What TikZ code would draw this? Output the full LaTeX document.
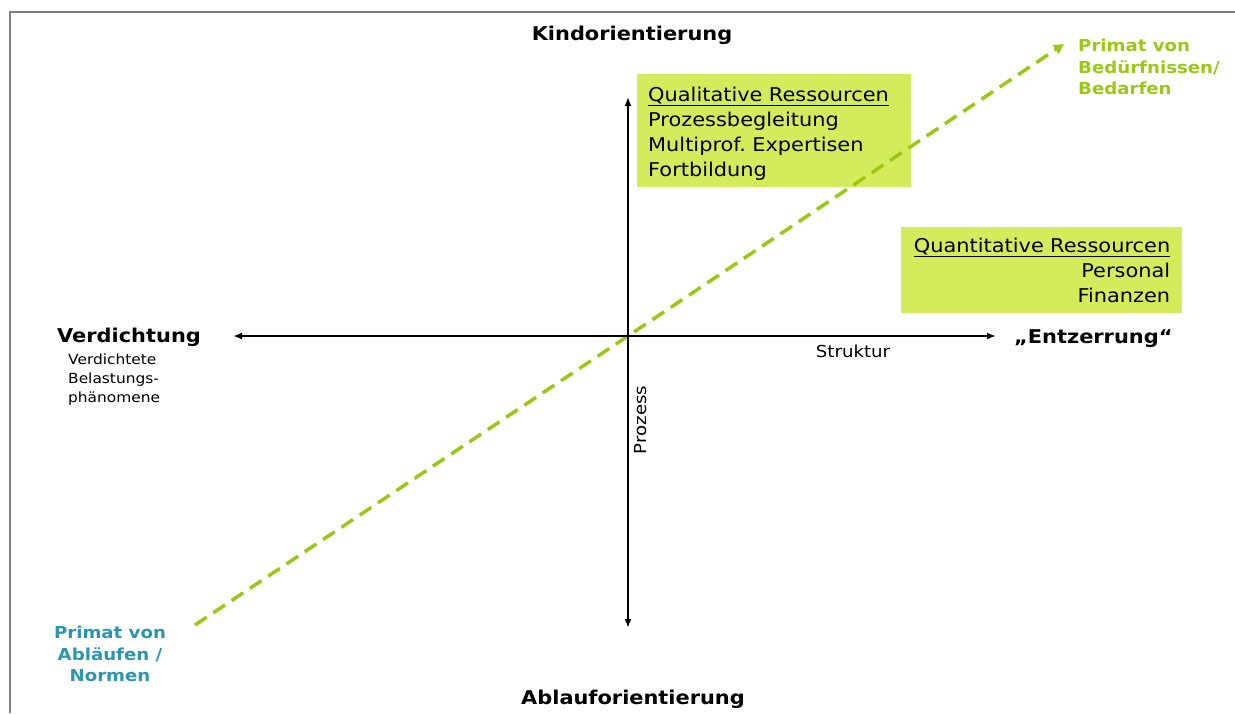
\documentclass[tikz,border=0pt]{standalone}
\usepackage{fontspec}
\setmainfont{DejaVu Sans}[FakeStretch=1.1]
\frenchspacing
\usetikzlibrary{arrows.meta}
\definecolor{boxgreen}{RGB}{212,236,92}
\definecolor{linegreen}{RGB}{154,200,20}
\definecolor{tealblue}{RGB}{42,150,176}
\tikzset{
  axis/.style={draw,line width=1.8pt,{Latex[length=9pt,width=7pt]}-{Latex[length=9pt,width=7pt]}},
  resbox/.style={fill=boxgreen,inner xsep=11pt,inner ysep=0pt,font=\fontsize{19}{25}\selectfont},
  pole/.style={font=\bfseries\fontsize{19}{23}\selectfont},
  primat/.style={font=\bfseries\fontsize{16.5}{21.5}\selectfont}
}
\begin{document}
\begin{tikzpicture}[x=1pt,y=-1pt]
\useasboundingbox (0,0) rectangle (1235,713);
\draw[gray,line width=2pt] (10,713) -- (10,12) -- (1235,12);

\coordinate (O) at (628,336);
\coordinate (W) at (233,336);
\coordinate (E) at (996,336);
\coordinate (N) at (628,97);
\coordinate (S) at (628,628);
\coordinate (low) at (195,625);
\coordinate (high) at (1064,44);

\node[resbox,anchor=north west,minimum width=274pt,minimum height=113pt,text width=252pt,align=left] (qual) at (637,74)
  {\rule{0pt}{20.5pt}\underline{Qualitative Ressourcen}\\Prozessbegleitung\\Multiprof. Expertisen\\Fortbildung};
\node[resbox,anchor=north west,minimum width=281pt,minimum height=86pt,text width=257pt,align=right] (quant) at (901,227)
  {\underline{Quantitative Ressourcen}\\Personal\\Finanzen};

\path[draw,linegreen,line width=3.5pt,dash pattern=on 14pt off 8pt,-{Triangle[length=10pt,width=10pt]}] (low) -- (O) -- (high);
\path[axis] (W) -- (E);
\path[axis] (N) -- (S);

\node[pole,anchor=base] (kind) at (632,40) {Kindorientierung};
\node[pole,anchor=base] (ablauf) at (633,704) {Ablauforientierung};
\node[pole,anchor=base west,inner sep=0pt] (verd) at (57,342) {Verdichtung};
\node[pole,anchor=base west,inner sep=0pt] (entz) at (1014,343) {„Entzerrung“};
\node[anchor=north west,inner sep=0pt,align=left,font=\fontsize{14}{19}\selectfont] (phaen) at (68,354)
  {Verdichtete\\Belastungs-\\phänomene};
\node[font=\fontsize{16.5}{18}\selectfont] (strukt) at (853,351) {Struktur};
\node[rotate=90,font=\fontsize{16.5}{18}\selectfont] (proz) at (641,420) {Prozess};

\node[primat,text=linegreen,anchor=north west,inner sep=0pt,align=left] (bed) at (1078,39)
  {Primat von\\Bedürfnissen/\\Bedarfen};
\node[primat,text=tealblue,anchor=north,inner sep=0pt,align=center] (abl) at (110,626)
  {Primat von\\Abläufen /\\Normen};
\end{tikzpicture}
\end{document}
